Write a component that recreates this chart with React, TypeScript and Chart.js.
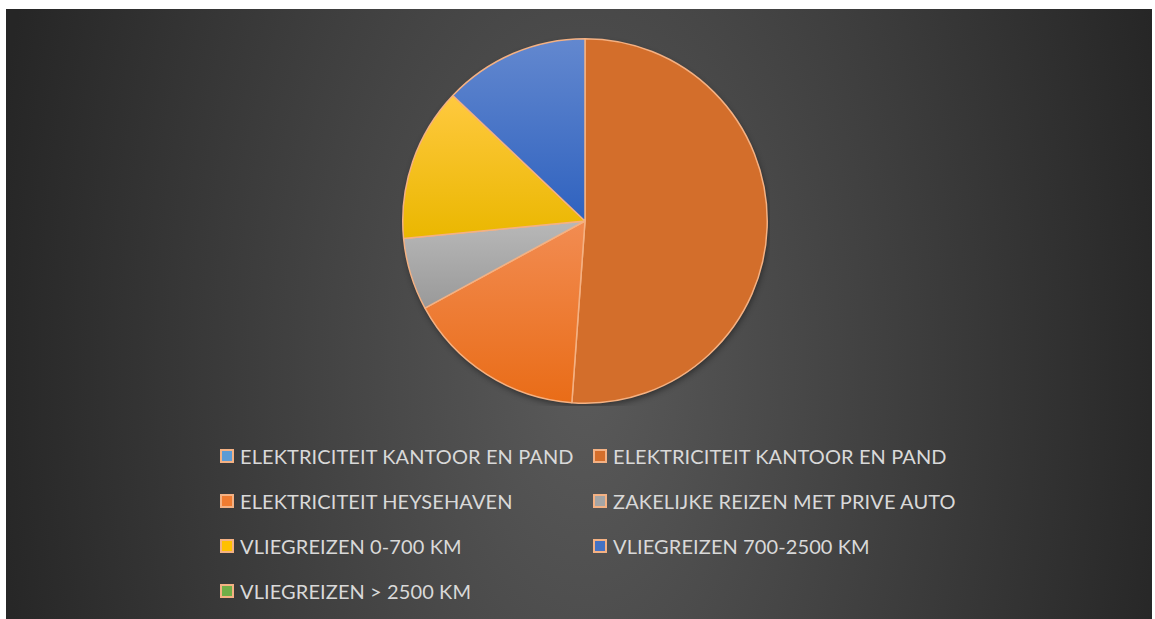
import React, { useEffect, useRef } from "react";
import { Chart, registerables } from "chart.js";

Chart.register(...registerables);

const labels = [
  "ELEKTRICITEIT KANTOOR EN PAND",
  "ELEKTRICITEIT KANTOOR EN PAND",
  "ELEKTRICITEIT HEYSEHAVEN",
  "ZAKELIJKE REIZEN MET PRIVE AUTO",
  "VLIEGREIZEN 0-700 KM",
  "VLIEGREIZEN 700-2500 KM",
  "VLIEGREIZEN > 2500 KM",
];
const values = [0, 51.1, 15.9, 6.4, 13.6, 12.9, 0];

const sliceTop = ["#6FA4DA", "#D36E2B", "#F28C52", "#B8B8B8", "#FFC93F", "#6388CF", "#7DB855"];
const sliceBottom = ["#4A8BD0", "#D36E2B", "#E96C17", "#999999", "#EAB700", "#2F62BF", "#5E9A37"];
const legendColors = ["#5B9BD5", "#D46E2B", "#EF7B30", "#A5A5A5", "#FFC000", "#4472C4", "#70AD47"];

const sliceGradient = (ctx: any) => {
  const i = ctx.dataIndex;
  const chart = ctx.chart;
  const area = chart.chartArea;
  if (!area || i === undefined) return sliceTop[i] || "#888";
  const cx = (area.left + area.right) / 2;
  const cy = (area.top + area.bottom) / 2;
  const r = Math.min(area.width, area.height) / 2;
  const total = values.reduce((a, b) => a + b, 0);
  let start = 0;
  for (let k = 0; k < i; k++) start += values[k];
  const a0 = (start / total) * 2 * Math.PI;
  const a1 = ((start + values[i]) / total) * 2 * Math.PI;
  const ys = [cy, cy - r * Math.cos(a0), cy - r * Math.cos(a1)];
  if (a0 <= 0.0001) ys.push(cy - r);
  if (a0 < Math.PI && a1 > Math.PI) ys.push(cy + r);
  const minY = Math.min(...ys);
  let maxY = Math.max(...ys);
  if (maxY - minY < 1) maxY = minY + 1;
  const g = chart.ctx.createLinearGradient(0, minY, 0, maxY);
  g.addColorStop(0, sliceTop[i]);
  g.addColorStop(1, sliceBottom[i]);
  return g;
};

const shadowPlugin = {
  id: "pieShadow",
  beforeDatasetsDraw(chart: any) {
    const area = chart.chartArea;
    const c = chart.ctx;
    const cx = (area.left + area.right) / 2;
    const cy = (area.top + area.bottom) / 2;
    const r = Math.min(area.width, area.height) / 2;
    c.save();
    c.shadowColor = "rgba(0,0,0,0.45)";
    c.shadowBlur = 6;
    c.shadowOffsetX = 1;
    c.shadowOffsetY = 3;
    c.beginPath();
    c.arc(cx, cy, r - 1, 0, Math.PI * 2);
    c.fillStyle = "#D36E2B";
    c.fill();
    c.restore();
  },
};

const FONT = "Lato, 'Open Sans', sans-serif";

export default function App() {
  const canvasRef = useRef<HTMLCanvasElement>(null);

  useEffect(() => {
    if (!canvasRef.current) return;
    const chart = new Chart(canvasRef.current, {
      type: "pie",
      data: {
        labels,
        datasets: [
          {
            data: values,
            backgroundColor: sliceGradient as any,
            borderColor: "#F4B183",
            borderWidth: 1.5,
          },
        ],
      },
      options: {
        animation: false,
        responsive: false,
        maintainAspectRatio: false,
        layout: { padding: 2 },
        plugins: {
          legend: { display: false },
          tooltip: { enabled: false },
        },
      },
      plugins: [shadowPlugin],
    });
    return () => chart.destroy();
  }, []);

  return (
    <div
      style={{
        position: "absolute",
        left: 6,
        top: 9,
        width: 1146,
        height: 610,
        overflow: "hidden",
        background:
          "radial-gradient(ellipse 600px 1100px at 579px 360px, #5a5a5a 0%, #262626 100%)",
      }}
    >
      <canvas
        ref={canvasRef}
        width={370}
        height={370}
        style={{ position: "absolute", left: 394, top: 27, width: 370, height: 370 }}
      />
      <div
        style={{
          position: "absolute",
          left: 214,
          top: 424,
          display: "grid",
          gridTemplateColumns: "373px 373px",
          gridAutoRows: "45px",
          fontFamily: FONT,
          fontSize: 20,
          letterSpacing: 0.1,
          color: "#D9D9D9",
        }}
      >
        {labels.map((lab, i) => (
          <div
            key={i}
            style={{ display: "flex", alignItems: "center", whiteSpace: "nowrap" }}
          >
            <span
              style={{
                display: "inline-block",
                width: 14,
                height: 14,
                boxSizing: "border-box",
                border: "2px solid #F4B183",
                background: legendColors[i],
                marginRight: 6,
                flex: "none",
              }}
            />
            <span>{lab}</span>
          </div>
        ))}
      </div>
    </div>
  );
}
